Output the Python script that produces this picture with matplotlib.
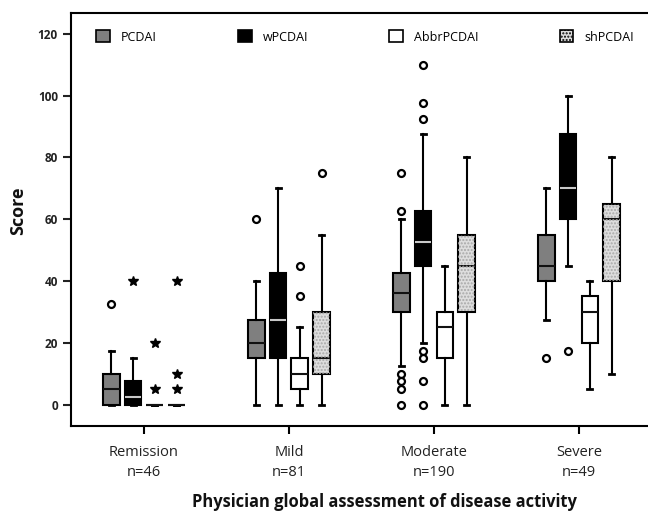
import matplotlib
matplotlib.use("Agg")
import matplotlib.pyplot as plt
from matplotlib.patches import PathPatch, Patch
import numpy as np

plt.rcParams['font.family'] = ['Open Sans', 'DejaVu Sans']

# categories
groups = ['Remission\nn=46', 'Mild\nn=81', 'Moderate\nn=190', 'Severe\nn=49']
measures = ['PCDAI', 'wPCDAI', 'AbbrPCDAI', 'shPCDAI']

# box statistics per measure, one value per group
pcdai_lo = [0, 0, 12.5, 27.5]
pcdai_q1 = [0, 15, 30, 40]
pcdai_med = [5, 20, 36, 45]
pcdai_q3 = [10, 27.5, 42.5, 55]
pcdai_hi = [17.5, 40, 60, 70]
pcdai_out = [[32.5], [60], [75, 62.5, 10, 7.5, 5, 0], [15]]
pcdai_ext = [[], [], [], []]

wpcdai_lo = [0, 0, 20, 45]
wpcdai_q1 = [0, 15, 45, 60]
wpcdai_med = [2.5, 27.5, 52.5, 70]
wpcdai_q3 = [7.5, 42.5, 62.5, 87.5]
wpcdai_hi = [15, 70, 87.5, 100]
wpcdai_out = [[], [], [110, 97.5, 92.5, 17.5, 15, 7.5, 0], [17.5]]
wpcdai_ext = [[40], [], [], []]

abbr_lo = [0, 0, 0, 5]
abbr_q1 = [0, 5, 15, 20]
abbr_med = [0, 10, 25, 30]
abbr_q3 = [0, 15, 30, 35]
abbr_hi = [0, 25, 45, 40]
abbr_out = [[], [45, 35], [], []]
abbr_ext = [[20, 5], [], [], []]

sh_lo = [0, 0, 0, 10]
sh_q1 = [0, 10, 30, 40]
sh_med = [0, 15, 45, 60]
sh_q3 = [0, 30, 55, 65]
sh_hi = [0, 55, 80, 80]
sh_out = [[], [75], [], []]
sh_ext = [[40, 10, 5], [], [], []]

series = [
    (pcdai_lo, pcdai_q1, pcdai_med, pcdai_q3, pcdai_hi, pcdai_out, pcdai_ext),
    (wpcdai_lo, wpcdai_q1, wpcdai_med, wpcdai_q3, wpcdai_hi, wpcdai_out, wpcdai_ext),
    (abbr_lo, abbr_q1, abbr_med, abbr_q3, abbr_hi, abbr_out, abbr_ext),
    (sh_lo, sh_q1, sh_med, sh_q3, sh_hi, sh_out, sh_ext),
]

face_colors = ['#7f7f7f', '#000000', '#ffffff', '#dedede']
median_colors = ['#111111', '#c8c8c8', '#111111', '#111111']
offsets = [-0.225, -0.075, 0.075, 0.225]
box_w = 0.115

fig = plt.figure(figsize=(6.48, 5.11), dpi=100)
ax = fig.add_axes([71 / 648, 1 - 425.7 / 511, 1 - 71 / 648, (425.7 - 13) / 511])

for k, (lo, q1, med, q3, hi, out, ext) in enumerate(series):
    stats = []
    for i in range(len(groups)):
        stats.append(dict(whislo=lo[i], q1=q1[i], med=med[i], q3=q3[i],
                          whishi=hi[i], fliers=out[i]))
    pos = np.arange(len(groups)) + offsets[k]
    bp = ax.bxp(stats, positions=pos, widths=box_w, capwidths=0.035,
                patch_artist=True, showfliers=True,
                boxprops=dict(facecolor=face_colors[k], edgecolor='black', linewidth=1.5),
                medianprops=dict(color=median_colors[k], linewidth=1.5),
                whiskerprops=dict(color='black', linewidth=1.5),
                capprops=dict(color='black', linewidth=2),
                flierprops=dict(marker='o', markerfacecolor='white', markeredgecolor='black',
                                markersize=5, markeredgewidth=1.6))
    if k == 3:
        # speckled fill for shPCDAI
        for b in bp['boxes']:
            ax.add_patch(PathPatch(b.get_path(), facecolor='none', edgecolor='#a8a8a8',
                                   hatch='.....', linewidth=0, zorder=b.get_zorder() + 0.1))
    for i in range(len(groups)):
        if ext[i]:
            ax.plot([pos[i]] * len(ext[i]), ext[i], linestyle='none', marker='*',
                    color='black', markersize=7)

ax.set_xlim(-0.503, 3.476)
ax.set_ylim(-6.8, 126.7)
ax.set_xticks(np.arange(len(groups)))
ax.set_xticklabels(groups, fontsize=10.5, color='#222222', linespacing=1.4)
ax.set_yticks([0, 20, 40, 60, 80, 100, 120])
ax.tick_params(axis='y', labelsize=8.5, length=6, width=1.5, colors='#222222')
ax.tick_params(axis='x', length=6, width=1.5, pad=8)
for t in ax.get_yticklabels():
    t.set_fontweight('bold')
for s in ['left', 'bottom', 'top']:
    ax.spines[s].set_linewidth(1.5)
ax.spines['right'].set_visible(False)

fig.text(18 / 648, 1 - 211 / 511, 'Score', rotation=90, ha='center', va='center',
         fontsize=13, fontweight='bold', color='#111111')
fig.text(384 / 648, 1 - 502 / 511, 'Physician global assessment of disease activity',
         ha='center', va='center', fontsize=11.9, fontweight='bold', color='#111111')

handles = [Patch(facecolor=face_colors[k], edgecolor='black', linewidth=1.2,
                 hatch='.....' if k == 3 else None) for k in range(4)]
ax.legend(handles, measures, ncol=4, mode='expand', frameon=False, loc='upper left',
          bbox_to_anchor=(0.035, 0.90, 0.95, 0.07), fontsize=9,
          handlelength=1.1, handleheight=1.1, handletextpad=0.9, borderaxespad=0)

fig.savefig('out.png', dpi=100)
